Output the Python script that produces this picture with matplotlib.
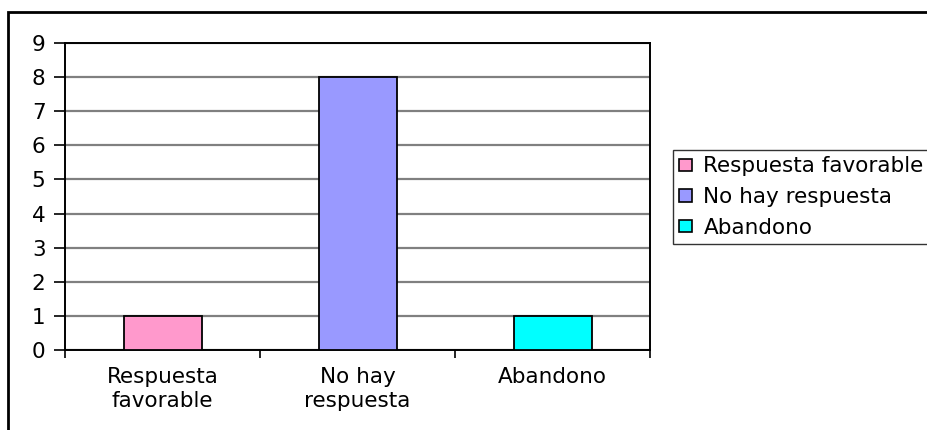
import matplotlib
matplotlib.use("Agg")
import matplotlib.pyplot as plt
from matplotlib.patches import Rectangle, Patch

categories = ["Respuesta favorable", "No hay respuesta", "Abandono"]
tick_labels = ["Respuesta\nfavorable", "No hay\nrespuesta", "Abandono"]
values = [1, 8, 1]
colors = ["#FF99CC", "#9999FF", "#00FFFF"]
y_ticks = [0, 1, 2, 3, 4, 5, 6, 7, 8, 9]

plt.rcParams["font.family"] = ["DejaVu Sans"]
FS = 15.5

fig = plt.figure(figsize=(9.28, 4.30), dpi=100)
ax = fig.add_axes([65 / 928, 1 - 350 / 430, (650 - 65) / 928, (350 - 43) / 430])

x = list(range(len(categories)))
ax.bar(x, values, width=0.4, color=colors, edgecolor="black", linewidth=1.3, zorder=3)

ax.set_xlim(-0.5, len(categories) - 0.5)
ax.set_ylim(0, 9)
ax.set_yticks(y_ticks)
ax.set_yticklabels([str(v) for v in y_ticks], fontsize=FS)
ax.tick_params(axis="y", length=8, width=1.2, pad=6, direction="out")

ax.set_xticks(x)
ax.set_xticklabels(tick_labels, fontsize=FS, linespacing=1.25)
ax.tick_params(axis="x", which="major", length=0, pad=12)
ax.set_xticks([i - 0.5 for i in range(len(categories) + 1)], minor=True)
ax.tick_params(axis="x", which="minor", length=6, width=1.2, direction="out")

ax.yaxis.grid(True, color="#808080", linewidth=1.6, zorder=1)
ax.set_axisbelow(True)
for s in ax.spines.values():
    s.set_linewidth(1.4)
    s.set_color("black")

handles = [Patch(facecolor=c, edgecolor="black", linewidth=1.2) for c in colors]
leg = fig.legend(handles, categories, loc="upper left",
                 bbox_to_anchor=(673 / 928, 1 - 150 / 430),
                 bbox_transform=fig.transFigure, fontsize=FS,
                 frameon=True, fancybox=False, borderaxespad=0,
                 borderpad=0.3, handlelength=0.56, handleheight=0.5,
                 handletextpad=0.55, labelspacing=0.5)
leg.get_frame().set_edgecolor("black")
leg.get_frame().set_linewidth(1.0)

# chart border, open at the right and bottom edges
fig.patches.append(Rectangle((8 / 928, -0.1), 1.2, 1 - 12 / 430 + 0.1,
                             transform=fig.transFigure, fill=False,
                             edgecolor="black", linewidth=2.0, clip_on=False))

fig.savefig("out.png", dpi=100)
